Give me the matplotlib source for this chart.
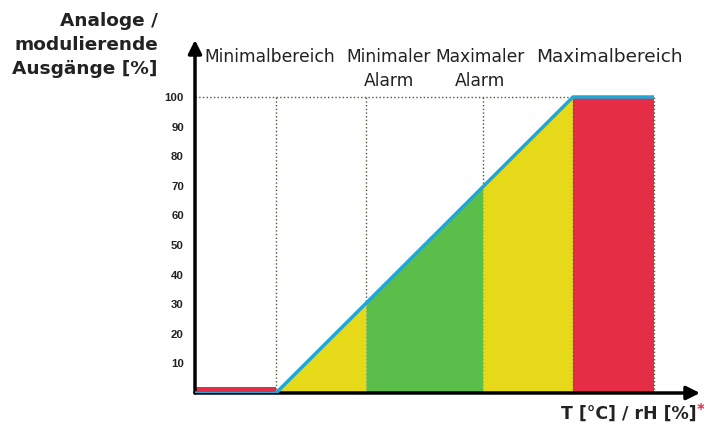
import matplotlib.pyplot as plt
import numpy as np

# zone boundaries along the x axis (arbitrary units) and output values
zone_edges = [0, 27, 57, 96, 126, 153]
ramp_x = [0, 27, 126, 153]
ramp_y = [0, 0, 100, 100]
zone_colors = ['#E52D45', '#E5D91A', '#5BBD4A', '#E5D91A', '#E52D45']
min_bar_height = 2
yticks = [10, 20, 30, 40, 50, 60, 70, 80, 90, 100]
zone_labels = ['Minimalbereich', 'Minimaler\nAlarm', 'Maximaler\nAlarm', 'Maximalbereich']

W, H = 704, 426
fig = plt.figure(figsize=(W / 100, H / 100), dpi=100)
x0, x1, y0, y1 = 195, 700, 393, 40
ax = fig.add_axes([x0 / W, (H - y0) / H, (x1 - x0) / W, (y0 - y1) / H])
ax.set_xlim(0, (x1 - x0) / 3)
ax.set_ylim(0, 100 * (y0 - y1) / 296)

dot_col = '#55553a'

# small red bar in the minimal range
ax.fill_between([zone_edges[0], zone_edges[1]], 0, min_bar_height, color=zone_colors[0], lw=0, zorder=2)

# coloured zones under the ramp
for i in range(1, 5):
    xs = np.array([zone_edges[i], zone_edges[i + 1]])
    ys = np.interp(xs, ramp_x, ramp_y)
    ax.fill_between(xs, 0, ys, color=zone_colors[i], lw=0, zorder=2)

# dotted guides
ax.plot([0, zone_edges[4]], [100, 100], ls=':', color=dot_col, lw=1, zorder=1)
for xe in zone_edges[1:]:
    ax.plot([xe, xe], [0, 100], ls=':', color=dot_col, lw=1, zorder=3 if xe >= zone_edges[4] else 1)

# ramp line
ax.plot(ramp_x, ramp_y, color='#1EA8D8', lw=2.5, zorder=4, solid_capstyle='butt')

# axes with arrows
for s in ax.spines.values():
    s.set_visible(False)
ax.set_xticks([])
ax.set_yticks(yticks)
ax.set_yticklabels([str(t) for t in yticks], fontsize=8.2, fontweight='bold', family='Liberation Sans',
                   color='#222222')
ax.tick_params(axis='y', length=0, pad=8)
ax.annotate('', xy=(0, 1.0), xycoords='axes fraction', xytext=(0, 0),
            arrowprops=dict(arrowstyle='-|>,head_length=0.8,head_width=0.4', color='black', lw=2.5,
                            shrinkA=0, shrinkB=0))
ax.annotate('', xy=(1.0, 0), xycoords='axes fraction', xytext=(0, 0),
            arrowprops=dict(arrowstyle='-|>,head_length=0.8,head_width=0.4', color='black', lw=2.5,
                            shrinkA=0, shrinkB=0))

# zone labels above the chart
label_px = [270, 389, 480, 609]
label_sizes = [12.3, 12.3, 12.3, 13.3]
for px, txt, fs in zip(label_px, zone_labels, label_sizes):
    fig.text(px / W, 1 - 48 / H, txt, ha='center', va='top', fontsize=fs,
             color='#222222', linespacing=1.45)

# axis titles
fig.text(158 / W, 1 - 45 / H, 'Analoge /\nmodulierende\nAusgänge [%]', ha='right', va='center',
         fontsize=13.3, fontweight='bold', color='#222222', linespacing=1.4)
fig.text(697 / W, 1 - 414 / H, 'T [°C] / rH [%]', ha='right', va='center',
         fontsize=12.5, fontweight='bold', color='#222222')
fig.text(697 / W, 1 - 411 / H, '*', ha='left', va='center',
         fontsize=11, fontweight='bold', color='#E52D45')

fig.savefig('out.png', dpi=100)
